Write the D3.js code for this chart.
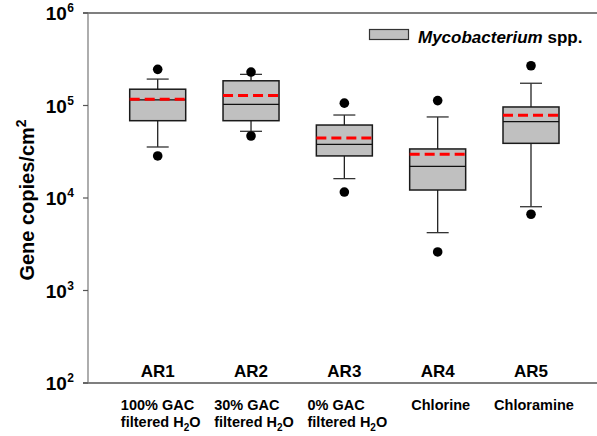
<!DOCTYPE html>
<html><head><meta charset="utf-8">
<script src="https://cdn.jsdelivr.net/npm/d3@7"></script>
<style>
body{margin:0;background:#fff;}
svg{display:block;font-family:"Liberation Sans",Arial,sans-serif;}
</style></head>
<body><svg id="c" width="597" height="436"></svg>
<script>
const categories = ["AR1","AR2","AR3","AR4","AR5"];
const treatments = [["100% GAC","filtered H|2|O"],["30% GAC","filtered H|2|O"],["0% GAC","filtered H|2|O"],["Chlorine"],["Chloramine"]];
const whiskerHigh = [1.93e5, 2.17e5, 7.89e4, 7.52e4, 1.74e5];
const q3 = [1.50e5, 1.85e5, 6.15e4, 3.39e4, 9.64e4];
const means = [1.17e5, 1.28e5, 4.45e4, 2.97e4, 7.83e4];
const medians = [1.15e5, 1.03e5, 3.80e4, 2.20e4, 6.68e4];
const q1 = [6.85e4, 6.85e4, 2.85e4, 1.22e4, 3.90e4];
const whiskerLow = [3.56e4, 5.26e4, 1.62e4, 4.22e3, 8.05e3];
const outlierHigh = [2.46e5, 2.30e5, 1.06e5, 1.13e5, 2.69e5];
const outlierLow = [2.85e4, 4.68e4, 1.16e4, 2.61e3, 6.67e3];
const yTicks = [2,3,4,5,6];
const legendLabel = ["Mycobacterium", " spp."];
const yTitle = "Gene copies/cm";

(function(){
const svg = d3.select("#c");
const mLeft = 88, mRight = 597, mTop = 13, mBottom = 383;
const y = d3.scaleLog().domain([1e2,1e6]).range([mBottom, mTop]);
const x = d3.scalePoint().domain(categories).range([157.7, 531]);
const bw = 56, cap = 22;

svg.append("line").attr("x1",83).attr("x2",mRight).attr("y1",mTop).attr("y2",mTop).attr("stroke","#000").attr("stroke-width",1.2);
svg.append("line").attr("x1",83).attr("x2",mRight).attr("y1",mBottom).attr("y2",mBottom).attr("stroke","#000").attr("stroke-width",1.2);
svg.append("line").attr("x1",mLeft).attr("x2",mLeft).attr("y1",mTop).attr("y2",mBottom).attr("stroke","#777").attr("stroke-width",1.2);
yTicks.forEach(e=>{
  const yy = y(Math.pow(10,e));
  svg.append("line").attr("x1",83).attr("x2",mLeft).attr("y1",yy).attr("y2",yy).attr("stroke","#555").attr("stroke-width",1.2);
  const t = svg.append("text").attr("x",74).attr("y",yy+7).attr("text-anchor","end")
    .attr("font-weight","bold").attr("font-size",19).attr("fill","#000");
  t.append("tspan").text("10");
  t.append("tspan").attr("dy",-8).attr("dx",0.5).attr("font-size",12).text(e);
});

const yt = svg.append("text").attr("transform","translate(34,200) rotate(-90)").attr("text-anchor","middle")
  .attr("font-weight","bold").attr("font-size",20).attr("fill","#000");
yt.append("tspan").text(yTitle);
yt.append("tspan").attr("dy",-8).attr("font-size",14).text("2");

const g = svg.append("g");
categories.forEach((c,i)=>{
  const cx = x(c);
  g.append("line").attr("x1",cx).attr("x2",cx).attr("y1",y(whiskerHigh[i])).attr("y2",y(q3[i])).attr("stroke","#222").attr("stroke-width",1.3);
  g.append("line").attr("x1",cx).attr("x2",cx).attr("y1",y(q1[i])).attr("y2",y(whiskerLow[i])).attr("stroke","#222").attr("stroke-width",1.3);
  g.append("line").attr("x1",cx-cap/2).attr("x2",cx+cap/2).attr("y1",y(whiskerHigh[i])).attr("y2",y(whiskerHigh[i])).attr("stroke","#333").attr("stroke-width",1.3);
  g.append("line").attr("x1",cx-cap/2).attr("x2",cx+cap/2).attr("y1",y(whiskerLow[i])).attr("y2",y(whiskerLow[i])).attr("stroke","#333").attr("stroke-width",1.3);
  g.append("rect").attr("x",cx-bw/2).attr("y",y(q3[i])).attr("width",bw).attr("height",y(q1[i])-y(q3[i]))
    .attr("fill","#c0c0c0").attr("stroke","#1a1a1a").attr("stroke-width",1.5);
  g.append("line").attr("x1",cx-bw/2).attr("x2",cx+bw/2).attr("y1",y(medians[i])).attr("y2",y(medians[i])).attr("stroke","#111").attr("stroke-width",1.2);
  g.append("line").attr("x1",cx-bw/2).attr("x2",cx+bw/2).attr("y1",y(means[i])).attr("y2",y(means[i])).attr("stroke","#ff0000").attr("stroke-width",3).attr("stroke-dasharray","10,5");
  g.append("circle").attr("cx",cx).attr("cy",y(outlierHigh[i])).attr("r",4.8).attr("fill","#000");
  g.append("circle").attr("cx",cx).attr("cy",y(outlierLow[i])).attr("r",4.8).attr("fill","#000");
  svg.append("text").attr("x",cx).attr("y",377).attr("text-anchor","middle").attr("font-weight","bold").attr("font-size",17).attr("fill","#000").text(c);
  const lines = treatments[i];
  const tg = svg.append("g");
  lines.forEach((ln,j)=>{
    const t = tg.append("text").attr("x",0).attr("y",410+j*17).attr("font-weight","bold").attr("font-size",14.5).attr("fill","#000");
    const parts = ln.split("|");
    if(parts.length===1){ t.text(ln); }
    else {
      t.append("tspan").text(parts[0]);
      t.append("tspan").attr("dy",4).attr("font-size",10).text(parts[1]);
      t.append("tspan").attr("dy",-4).text(parts[2]);
    }
  });
  const bb = tg.node().getBBox();
  tg.attr("transform",`translate(${cx - bb.width/2 + 3},0)`);
});

svg.append("rect").attr("x",369.5).attr("y",29.5).attr("width",39).attr("height",10).attr("fill","#c0c0c0").attr("stroke","#333").attr("stroke-width",1.2);
const lt = svg.append("text").attr("x",418).attr("y",43).attr("font-weight","bold").attr("font-size",17).attr("fill","#000");
lt.append("tspan").attr("font-style","italic").text(legendLabel[0]);
lt.append("tspan").text(legendLabel[1]);
})();
</script></body></html>
